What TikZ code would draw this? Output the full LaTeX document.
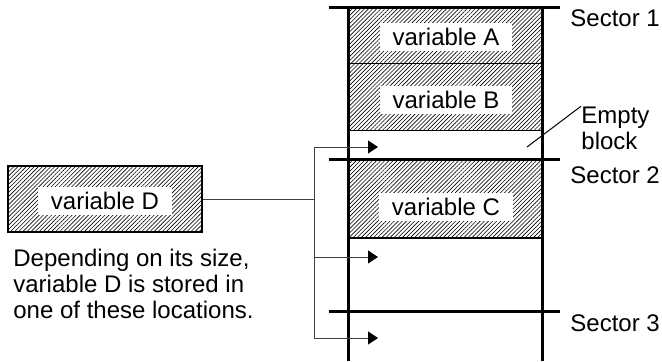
\documentclass[tikz,border=0pt]{standalone}
\usepackage{fontspec}
\setmainfont{Liberation Sans}
\usetikzlibrary{positioning, arrows.meta, patterns.meta}

\begin{document}
\begin{tikzpicture}[
    x=0.5pt, y=-0.5pt,
    >={Triangle[length=5pt, width=6.5pt, color=black]},
    font=\fontsize{12}{13}\selectfont,
    hatchbox/.style={rectangle, draw, inner sep=0pt, minimum width=97pt, line width=0.5pt,
                     pattern={Lines[angle=45, distance=1.45pt, line width=0.3pt]}},
    varlabel/.style={fill=white, inner xsep=6.5pt, inner ysep=2.8pt},
    wall/.style={line width=1.5pt},
    conn/.style={line width=0.5pt, color=black!75},
    seclabel/.style={anchor=west, inner sep=0pt},
]
\useasboundingbox (0,0) rectangle (662,361);

% ============================================================
% Memory column: stored variables
% ============================================================
\node[hatchbox, minimum height=28pt] (varA) at (445,35) {};
\node[hatchbox, minimum height=33.5pt] (varB) at (445,96.5) {};
\node[hatchbox, minimum height=39.5pt, line width=1.2pt] (varC) at (445,198.5) {};

\node[varlabel] (labA) at (446,37) {variable A};
\node[varlabel] (labB) at (446,100) {variable B};
\node[varlabel] (labC) at (446,207) {variable C};

% Column walls
\draw[wall] (348,7) -- (348,361);
\draw[wall] (542,7) -- (542,361);

% Sector boundaries
\foreach \y/\ly/\n in {7/18/1, 159/175/2, 311/323/3} {
    \draw[wall] (329,\y) -- (560,\y);
    \node[seclabel] (sec\n) at (570,\ly) {Sector \n};
}

% Empty block note
\coordinate (emptypt) at (527,147);
\node[anchor=west, align=left, inner sep=0pt] (emptylbl) at (581,128) {Empty\\block};
\draw[line width=0.5pt] (emptypt) -- (emptylbl.north west);

% ============================================================
% Variable D and its possible places
% ============================================================
\node[hatchbox, minimum height=33pt, line width=1pt] (varD) at (105,199) {};
\node[varlabel] (labD) at (105,201) {variable D};

\node[anchor=west, align=left, inner sep=0pt] (caption) at (13,284)
    {Depending on its size,\\variable D is stored in\\one of these locations.};

\coordinate (split) at (314,199);
\coordinate (tip1) at (378,147);
\coordinate (tip2) at (378,257);
\coordinate (tip3) at (378,338);

\draw[conn] (varD.east) -- (split);
\draw[conn, ->] (split) |- (tip1);
\draw[conn, ->] (split) |- (tip2);
\draw[conn, ->] (split) |- (tip3);

\end{tikzpicture}
\end{document}
